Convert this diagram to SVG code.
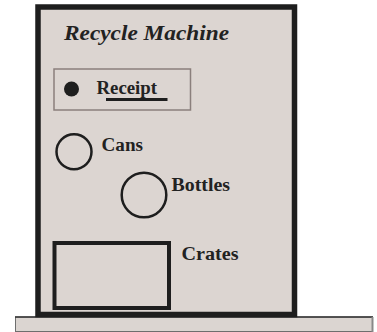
<svg xmlns="http://www.w3.org/2000/svg" width="377" height="332" viewBox="0 0 377 332">
<style>
.lbl{font-family:"Liberation Serif","Times New Roman",serif;font-weight:bold;font-size:18px;fill:#222}
.title{font-family:"Liberation Serif","Times New Roman",serif;font-weight:bold;font-style:italic;font-size:21px;fill:#222}
.ring{fill:none;stroke:#1e1e1e;stroke-width:2.5}
</style>
<rect width="377" height="332" fill="#ffffff"/>
<g id="floor">
<rect x="15.5" y="317" width="357" height="14.5" fill="#dbd5d1" stroke="#6e6e6e" stroke-width="1"/>
<line x1="15" y1="317" x2="373" y2="317" stroke="#333" stroke-width="1.5"/>
<line x1="372.5" y1="317" x2="372.5" y2="332" stroke="#888" stroke-width="2"/>
</g>
<g id="machine">
<rect x="38" y="7" width="256.5" height="307.5" fill="#dcd5d1" stroke="#1e1e1e" stroke-width="5.5"/>
<text class="title" x="64" y="40" textLength="165" lengthAdjust="spacingAndGlyphs">Recycle Machine</text>
</g>
<g id="receipt">
<rect x="54" y="69" width="136.5" height="41" fill="none" stroke="#8a7f7c" stroke-width="1.5"/>
<circle cx="71.5" cy="89" r="7.5" fill="#1e1e1e"/>
<text class="lbl" x="96.5" y="94" textLength="60.5" lengthAdjust="spacingAndGlyphs">Receipt</text>
<line x1="106" y1="99.5" x2="167.5" y2="99.5" stroke="#1e1e1e" stroke-width="3"/>
</g>
<g id="cans">
<circle class="ring" cx="74" cy="151.7" r="17.5"/>
<text class="lbl" x="101.5" y="150.5" textLength="41.5" lengthAdjust="spacingAndGlyphs">Cans</text>
</g>
<g id="bottles">
<circle class="ring" cx="144" cy="195" r="22.3"/>
<text class="lbl" x="171.5" y="190.5" textLength="58.5" lengthAdjust="spacingAndGlyphs">Bottles</text>
</g>
<g id="crates">
<rect x="54.5" y="243" width="114.5" height="65" fill="none" stroke="#1e1e1e" stroke-width="4"/>
<text class="lbl" x="181.5" y="259.5" textLength="57" lengthAdjust="spacingAndGlyphs">Crates</text>
</g>
<g id="connectors"></g>
</svg>
